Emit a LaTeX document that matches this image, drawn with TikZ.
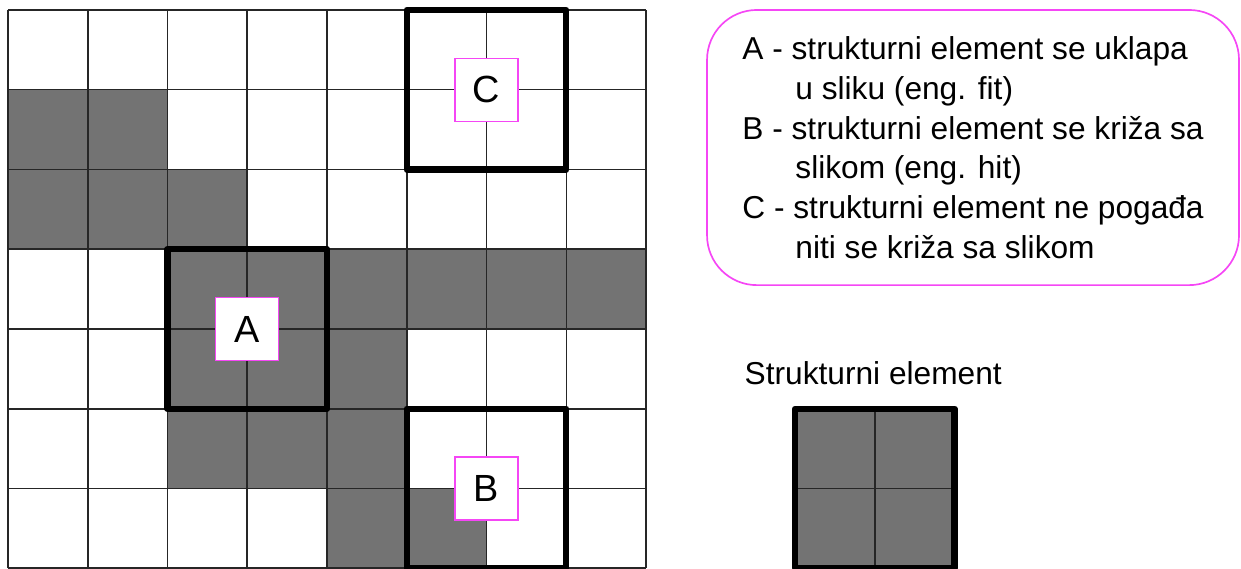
\documentclass[tikz,border=0pt]{standalone}
\usepackage{fontspec}
\setmainfont{Liberation Sans}
\definecolor{cellgray}{RGB}{115,115,115}
\definecolor{tagpink}{RGB}{245,70,245}
\begin{document}
\begin{tikzpicture}[
  cell/.style={fill=cellgray},
  gridln/.style={draw=black!85, line width=1.1pt},
  win/.style={draw, line width=4.6pt, line join=round},
  tag/.style={draw=tagpink, line width=0.9pt, fill=white, minimum size=1.58cm, inner sep=0pt, font=\fontsize{27}{32}\selectfont},
  note/.style={draw=tagpink, line width=1.2pt, rounded corners=1.25cm, minimum width=13.34cm, minimum height=6.9cm, align=left, font=\fontsize{22.6}{28.3}\selectfont}
]
\useasboundingbox (-0.2,0) rectangle (30.92,14.25);
% image pixels
\fill[cell] (0,10) rectangle (4,12);
\fill[cell] (0,8) rectangle (6,10);
\fill[cell] (4,6) rectangle (16,8);
\fill[cell] (4,2) rectangle (10,6);
\fill[cell] (8,0) rectangle (12,2);
\draw[gridln, step=2cm] (0,0) grid (16,14);
% structuring element positions
\draw[win] (4,4) rectangle (8,8);
\draw[win] (10,0) rectangle (14,4);
\draw[win] (10,10) rectangle (14,14);
\node[tag] (tagA) at (6,6) {A};
\node[tag] (tagB) at (12,2) {B};
\node[tag] (tagC) at (12,12) {C};
% legend
\node[note] (legend) at (24.2,10.55) {A - strukturni element se uklapa\\
  \hspace*{1.33cm}u sliku (eng. fit)\\
  B - strukturni element se kri\v{z}a sa\\
  \hspace*{1.33cm}slikom (eng. hit)\\
  C - strukturni element ne poga\dj a\\
  \hspace*{1.33cm}niti se kri\v{z}a sa slikom};
% structuring element
\node[anchor=base west, font=\fontsize{22.6}{28.3}\selectfont] (setitle) at (18.35,4.596) {Strukturni element};
\fill[cell] (19.74,0) rectangle (23.74,4);
\draw[gridln] (21.74,0) -- (21.74,4) (19.74,2) -- (23.74,2);
\draw[win] (19.74,0) rectangle (23.74,4);
\end{tikzpicture}
\end{document}
